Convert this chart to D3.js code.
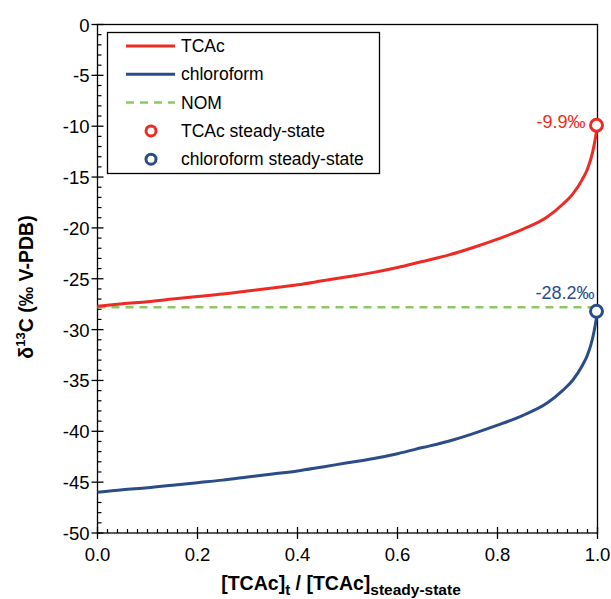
<!DOCTYPE html>
<html>
<head>
<meta charset="utf-8">
<script src="https://cdn.jsdelivr.net/npm/d3@7"></script>
<style>
body { margin: 0; background: #fff; }
text { font-family: "Liberation Sans", Arial, sans-serif; }
</style>
</head>
<body>
<svg width="611" height="599"></svg>
<script>
var fraction = [0, 0.05, 0.1, 0.15, 0.2, 0.25, 0.3, 0.35, 0.4, 0.45, 0.5, 0.55, 0.6, 0.65, 0.7, 0.75, 0.8, 0.85, 0.9, 0.93, 0.95, 0.97, 0.98, 0.99, 0.995, 1];
var tcac = [-27.7, -27.45, -27.25, -27.0, -26.75, -26.5, -26.2, -25.9, -25.6, -25.2, -24.8, -24.4, -23.9, -23.3, -22.7, -21.95, -21.1, -20.15, -18.9, -17.7, -16.7, -15.2, -14.2, -12.6, -11.4, -9.9];
var chloroform = [-46.0, -45.75, -45.55, -45.3, -45.05, -44.8, -44.5, -44.2, -43.9, -43.5, -43.1, -42.7, -42.2, -41.6, -41.0, -40.25, -39.4, -38.45, -37.2, -36.0, -35.0, -33.5, -32.5, -30.9, -29.7, -28.2];
var nom = -27.8;
var steadyX = [1, 1];
var steadyY = [-9.9, -28.2];
var steadyLabels = ["-9.9‰", "-28.2‰"];
var xTicks = [0, 0.2, 0.4, 0.6, 0.8, 1.0];
var yTicks = [0, -5, -10, -15, -20, -25, -30, -35, -40, -45, -50];

var red = "#ee2a24", blue = "#2a4d8a", green = "#8cc864";
var steadyColors = [red, blue];

var svg = d3.select("svg");
var pLeft = 97.5, pRight = 597.5, pTop = 24.5, pBottom = 533;
var x = d3.scaleLinear().domain([0, 1]).range([pLeft, pRight]);
var y = d3.scaleLinear().domain([-50, 0]).range([pBottom, pTop]);

// frame
svg.append("rect")
	.attr("x", pLeft).attr("y", pTop)
	.attr("width", pRight - pLeft).attr("height", pBottom - pTop)
	.attr("fill", "none").attr("stroke", "#000").attr("stroke-width", 1.3);

// minor ticks (inside)
var yMinor = d3.range(-49, 0, 1).filter(function(v){ return v % 5 != 0; });
svg.selectAll(".ym").data(yMinor).enter().append("line")
	.attr("x1", pLeft).attr("x2", pLeft + 4)
	.attr("y1", function(d){ return y(d); }).attr("y2", function(d){ return y(d); })
	.attr("stroke", "#000").attr("stroke-width", 1.2);
var xMinor = d3.range(1, 50).map(function(i){ return i * 0.02; }).filter(function(v, i){ return (i + 1) % 10 != 0; });
svg.selectAll(".xm").data(xMinor).enter().append("line")
	.attr("y1", pBottom).attr("y2", pBottom - 4)
	.attr("x1", function(d){ return x(d); }).attr("x2", function(d){ return x(d); })
	.attr("stroke", "#000").attr("stroke-width", 1.2);

// major ticks (cross)
svg.selectAll(".yM").data(yTicks).enter().append("line")
	.attr("x1", pLeft - 6).attr("x2", pLeft + 6)
	.attr("y1", function(d){ return y(d); }).attr("y2", function(d){ return y(d); })
	.attr("stroke", "#000").attr("stroke-width", 1.3);
svg.selectAll(".xM").data(xTicks).enter().append("line")
	.attr("y1", pBottom - 6).attr("y2", pBottom + 6)
	.attr("x1", function(d){ return x(d); }).attr("x2", function(d){ return x(d); })
	.attr("stroke", "#000").attr("stroke-width", 1.3);

svg.selectAll(".yl").data(yTicks).enter().append("text")
	.attr("x", pLeft - 8).attr("y", function(d){ return y(d) + 7; })
	.attr("text-anchor", "end").attr("font-size", 18.5)
	.text(function(d){ return d; });
svg.selectAll(".xl").data(xTicks).enter().append("text")
	.attr("x", function(d){ return x(d); }).attr("y", pBottom + 28)
	.attr("text-anchor", "middle").attr("font-size", 18.5)
	.text(function(d){ return d3.format(".1f")(d); });

// axis titles
var yt = svg.append("text")
	.attr("transform", "translate(33,287) rotate(-90)")
	.attr("text-anchor", "middle").attr("font-size", 19.5).attr("font-weight", "bold");
yt.append("tspan").text("δ");
yt.append("tspan").attr("dy", -8).attr("font-size", 13).text("13");
yt.append("tspan").attr("dy", 8).text("C (‰ V-PDB)");

var xt = svg.append("text")
	.attr("x", 341).attr("y", 590)
	.attr("text-anchor", "middle").attr("font-size", 19.5).attr("font-weight", "bold");
xt.append("tspan").text("[TCAc]");
xt.append("tspan").attr("dy", 5).attr("font-size", 15).text("t");
xt.append("tspan").attr("dy", -5).text(" / [TCAc]");
xt.append("tspan").attr("dy", 5).attr("font-size", 15.5).text("steady-state");

// lines
var line = d3.line().curve(d3.curveMonotoneX);
svg.append("line")
	.attr("x1", x(0)).attr("x2", x(1)).attr("y1", y(nom)).attr("y2", y(nom))
	.attr("stroke", green).attr("stroke-width", 2.5).attr("stroke-dasharray", "8,6");
svg.append("path")
	.attr("d", line(fraction.map(function(f, i){ return [x(f), y(tcac[i])]; })))
	.attr("fill", "none").attr("stroke", red).attr("stroke-width", 3);
svg.append("path")
	.attr("d", line(fraction.map(function(f, i){ return [x(f), y(chloroform[i])]; })))
	.attr("fill", "none").attr("stroke", blue).attr("stroke-width", 3);

var labelDx = [-12, -3];
var labelDy = [3, -12];
steadyX.forEach(function(sx, i){
	svg.append("circle")
		.attr("cx", x(sx) - 1).attr("cy", y(steadyY[i]))
		.attr("r", 6).attr("fill", "#fff")
		.attr("stroke", steadyColors[i]).attr("stroke-width", 3);
	svg.append("text")
		.attr("x", x(sx) + labelDx[i]).attr("y", y(steadyY[i]) + labelDy[i])
		.attr("text-anchor", "end").attr("font-size", 18)
		.attr("fill", steadyColors[i])
		.text(steadyLabels[i]);
});

// legend
var lg = svg.append("g");
lg.append("rect").attr("x", 107.5).attr("y", 32.5).attr("width", 272).attr("height", 141)
	.attr("fill", "#fff").attr("stroke", "#000").attr("stroke-width", 1.3);
var legendItems = [
	{label: "TCAc", color: red, type: "line"},
	{label: "chloroform", color: blue, type: "line"},
	{label: "NOM", color: green, type: "dash"},
	{label: "TCAc steady-state", color: red, type: "circle"},
	{label: "chloroform steady-state", color: blue, type: "circle"}
];
legendItems.forEach(function(d, i){
	var cy = 46 + i * 28.3;
	if (d.type == "circle") {
		lg.append("circle").attr("cx", 151).attr("cy", cy).attr("r", 5)
			.attr("fill", "#fff").attr("stroke", d.color).attr("stroke-width", 3);
	} else {
		lg.append("line").attr("x1", 126).attr("x2", 175).attr("y1", cy).attr("y2", cy)
			.attr("stroke", d.color).attr("stroke-width", d.type == "dash" ? 2.5 : 3)
			.attr("stroke-dasharray", d.type == "dash" ? "8,6" : null);
	}
	lg.append("text").attr("x", 181).attr("y", cy + 6).attr("font-size", 17.5).text(d.label);
});
</script>
</body>
</html>
